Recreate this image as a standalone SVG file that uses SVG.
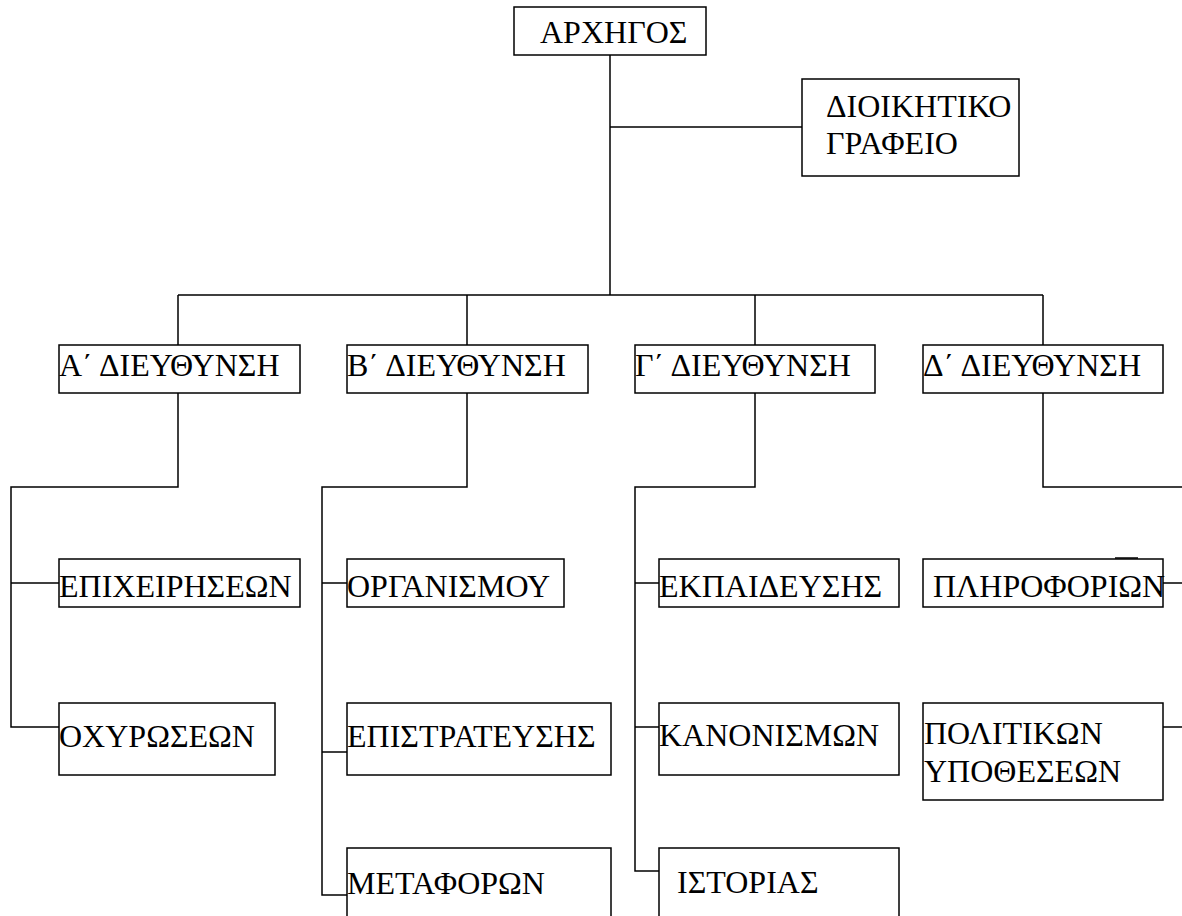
<svg xmlns="http://www.w3.org/2000/svg" width="1182" height="916" viewBox="0 0 1182 916">
<style>
.box{fill:#fff;stroke:#000;stroke-width:1.5}
.ln{fill:none;stroke:#000;stroke-width:1.5}
text{font-family:"Liberation Serif","DejaVu Serif","Times New Roman",serif;font-size:32px;fill:#000}
</style>
<rect width="1182" height="916" fill="#fff"/>
<g id="connectors">
<path class="ln" d="M610 55V295M610 127H802M178 295H1043M178 295V345M467 295V345M755 295V345M1043 295V345"/>
<path class="ln" d="M178 393V487H11V727H59M11 583H59"/>
<path class="ln" d="M467 393V487H322V895H347M322 583H347M322 752H347"/>
<path class="ln" d="M755 393V487H635V871H659M635 583H659M635 727H659"/>
<path class="ln" d="M1043 393V487H1182M1163 583H1182M1163 727H1182"/>
</g>
<g id="n-archigos"><rect class="box" x="514" y="7" width="192" height="48"/><text x="540" y="43">ΑΡΧΗΓΟΣ</text></g>
<g id="n-dioikitiko"><rect class="box" x="802" y="79" width="217" height="97"/><text x="826" y="117">ΔΙΟΙΚΗΤΙΚΟ</text><text x="826" y="154">ΓΡΑΦΕΙΟ</text></g>
<g id="n-a"><rect class="box" x="59" y="345" width="241" height="48"/><text x="59" y="376">Α΄ ΔΙΕΥΘΥΝΣΗ</text></g>
<g id="n-b"><rect class="box" x="347" y="345" width="241" height="48"/><text x="347" y="376">Β΄ ΔΙΕΥΘΥΝΣΗ</text></g>
<g id="n-g"><rect class="box" x="635" y="345" width="240" height="48"/><text x="635" y="376">Γ΄ ΔΙΕΥΘΥΝΣΗ</text></g>
<g id="n-d"><rect class="box" x="923" y="345" width="240" height="48"/><text x="923" y="376">Δ΄ ΔΙΕΥΘΥΝΣΗ</text></g>
<g id="n-epicheiriseon"><rect class="box" x="59" y="559" width="241" height="48"/><text x="59" y="597">ΕΠΙΧΕΙΡΗΣΕΩΝ</text></g>
<g id="n-organismou"><rect class="box" x="347" y="559" width="217" height="48"/><text x="347" y="597">ΟΡΓΑΝΙΣΜΟΥ</text></g>
<g id="n-ekpaideusis"><rect class="box" x="659" y="559" width="240" height="48"/><text x="659" y="597">ΕΚΠΑΙΔΕΥΣΗΣ</text></g>
<g id="n-pliroforion"><rect class="box" x="923" y="559" width="240" height="48"/><path class="ln" d="M1115 558H1138"/><text x="933" y="597">ΠΛΗΡΟΦΟΡΙΩΝ</text></g>
<g id="n-ochyroseon"><rect class="box" x="59" y="703" width="216" height="72"/><text x="59" y="747">ΟΧΥΡΩΣΕΩΝ</text></g>
<g id="n-epistrateusis"><rect class="box" x="347" y="703" width="264" height="72"/><text x="347" y="747">ΕΠΙΣΤΡΑΤΕΥΣΗΣ</text></g>
<g id="n-kanonismon"><rect class="box" x="659" y="703" width="240" height="72"/><text x="659" y="746">ΚΑΝΟΝΙΣΜΩΝ</text></g>
<g id="n-politikon"><rect class="box" x="923" y="703" width="240" height="97"/><text x="924" y="744">ΠΟΛΙΤΙΚΩΝ</text><text x="924" y="782">ΥΠΟΘΕΣΕΩΝ</text></g>
<g id="n-metaforon"><rect class="box" x="347" y="848" width="264" height="90"/><text x="347" y="894">ΜΕΤΑΦΟΡΩΝ</text></g>
<g id="n-istorias"><rect class="box" x="659" y="848" width="240" height="90"/><text x="677" y="893">ΙΣΤΟΡΙΑΣ</text></g>
</svg>
